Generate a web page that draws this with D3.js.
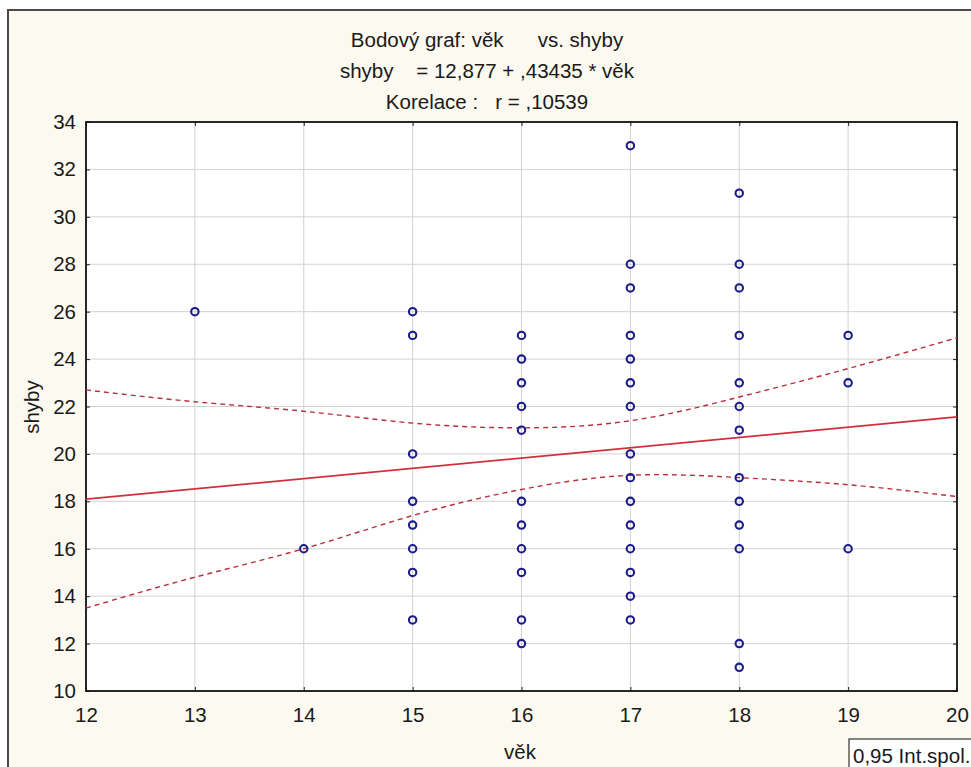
<!DOCTYPE html>
<html><head><meta charset="utf-8">
<script src="https://cdn.jsdelivr.net/npm/d3@7"></script>
<style>
html,body{margin:0;padding:0;background:#fff;}
svg{display:block;}
text{font-family:"Liberation Sans",Arial,sans-serif;fill:#1a1a1a;}
</style></head>
<body>
<svg id="c" width="971" height="767"></svg>
<script>
// ---- data ----
const titleLines = ["Bodový graf: věk      vs. shyby", "shyby    = 12,877 + ,43435 * věk", "Korelace :   r = ,10539"];
const xLabel = "věk";
const yLabel = "shyby";
const legendText = "0,95 Int.spol.";
const xTicks = [12, 13, 14, 15, 16, 17, 18, 19, 20];
const yTicks = [10, 12, 14, 16, 18, 20, 22, 24, 26, 28, 30, 32, 34];
const ages   = [13, 14, 15, 15, 15, 15, 15, 15, 15, 15,
                16, 16, 16, 16, 16, 16, 16, 16, 16, 16, 16,
                17, 17, 17, 17, 17, 17, 17, 17, 17, 17, 17, 17, 17, 17, 17,
                18, 18, 18, 18, 18, 18, 18, 18, 18, 18, 18, 18, 18,
                19, 19, 19];
const pullups = [26, 16, 26, 25, 20, 18, 17, 16, 15, 13,
                 25, 24, 23, 22, 21, 18, 17, 16, 15, 13, 12,
                 33, 28, 27, 25, 24, 23, 22, 20, 19, 18, 17, 16, 15, 14, 13,
                 31, 28, 27, 25, 23, 22, 21, 19, 18, 17, 16, 12, 11,
                 25, 23, 16];
const intercept = 12.877;
const slope = 0.43435;
const bandX     = [12, 13, 14, 15, 16, 17, 18, 19, 20];
const bandUpper = [22.7, 22.2, 21.8, 21.3, 21.1, 21.4, 22.4, 23.6, 24.9];
const bandLower = [13.5, 14.8, 16.0, 17.4, 18.5, 19.1, 19.0, 18.7, 18.2];

// ---- layout ----
const svg = d3.select("#c");
const L = 86, R = 957, T = 122, B = 691;
const x = d3.scaleLinear().domain([12, 20]).range([L, R]);
const y = d3.scaleLinear().domain([10, 34]).range([B, T]);
const FONT = 20.5;

// outer frame
svg.append("rect").attr("x", 8).attr("y", 10).attr("width", 980).attr("height", 780)
  .attr("fill", "#fcf9f0").attr("stroke", "#4a4a4a").attr("stroke-width", 2);

// plot background
svg.append("rect").attr("x", L).attr("y", T).attr("width", R - L).attr("height", B - T).attr("fill", "#fff");

// grid
const g = svg.append("g");
g.selectAll(".gx").data(xTicks.slice(1, -1)).join("line")
  .attr("x1", d => x(d)).attr("x2", d => x(d)).attr("y1", T).attr("y2", B)
  .attr("stroke", "#d2d2d2").attr("stroke-width", 1);
g.selectAll(".gy").data(yTicks.slice(1, -1)).join("line")
  .attr("y1", d => y(d)).attr("y2", d => y(d)).attr("x1", L).attr("x2", R)
  .attr("stroke", "#d2d2d2").attr("stroke-width", 1);

// axes (inward ticks, labels)
const axB = d3.axisBottom(x).tickValues(xTicks).tickSize(-4).tickPadding(16).tickFormat(d3.format("d"));
const axL = d3.axisLeft(y).tickValues(yTicks).tickSize(-4).tickPadding(10).tickFormat(d3.format("d"));
const axT = d3.axisTop(x).tickValues(xTicks).tickSize(-4).tickFormat("");
const axR = d3.axisRight(y).tickValues(yTicks).tickSize(-4).tickFormat("");
function style(sel){
  sel.select(".domain").remove();
  sel.selectAll(".tick line").attr("stroke", "#222");
  sel.selectAll("text").attr("font-size", FONT).attr("fill", "#1a1a1a").style("font-family", "'Liberation Sans',Arial,sans-serif");
}
svg.append("g").attr("transform", `translate(0,${B})`).call(axB).call(style);
svg.append("g").attr("transform", `translate(${L},0)`).call(axL).call(style);
svg.append("g").attr("transform", `translate(0,${T})`).call(axT).call(style);
svg.append("g").attr("transform", `translate(${R},0)`).call(axR).call(style);

// plot frame
svg.append("rect").attr("x", L).attr("y", T).attr("width", R - L).attr("height", B - T)
  .attr("fill", "none").attr("stroke", "#111").attr("stroke-width", 1.8);

// confidence bands
const band = d3.line().x((d, i) => x(bandX[i])).y(d => y(d)).curve(d3.curveNatural);
[bandUpper, bandLower].forEach(arr => {
  svg.append("path").attr("d", band(arr)).attr("fill", "none")
    .attr("stroke", "#b8303c").attr("stroke-width", 1.4).attr("stroke-dasharray", "5,4");
});

// regression line
svg.append("line")
  .attr("x1", x(12)).attr("y1", y(intercept + slope * 12))
  .attr("x2", x(20)).attr("y2", y(intercept + slope * 20))
  .attr("stroke", "#d0303c").attr("stroke-width", 1.7);

// points
svg.append("g").selectAll("circle").data(ages).join("circle")
  .attr("cx", d => x(d)).attr("cy", (d, i) => y(pullups[i])).attr("r", 3.7)
  .attr("fill", "none").attr("stroke", "#1c1c8a").attr("stroke-width", 2.1);

// titles
svg.append("g").selectAll("text").data(titleLines).join("text")
  .attr("x", 487).attr("y", (d, i) => 47 + i * 31)
  .attr("text-anchor", "middle").attr("font-size", FONT).style("white-space", "pre")
  .text(d => d);

// axis labels
svg.append("text").attr("x", 520).attr("y", 759).attr("text-anchor", "middle").attr("font-size", FONT).text(xLabel);
svg.append("text").attr("transform", "translate(39,407) rotate(-90)").attr("text-anchor", "middle").attr("font-size", FONT).text(yLabel);

// legend box
svg.append("rect").attr("x", 849).attr("y", 739).attr("width", 140).attr("height", 40)
  .attr("fill", "#fff").attr("stroke", "#333").attr("stroke-width", 1.2);
svg.append("text").attr("x", 853).attr("y", 763).attr("font-size", FONT).text(legendText);
</script>
</body></html>
